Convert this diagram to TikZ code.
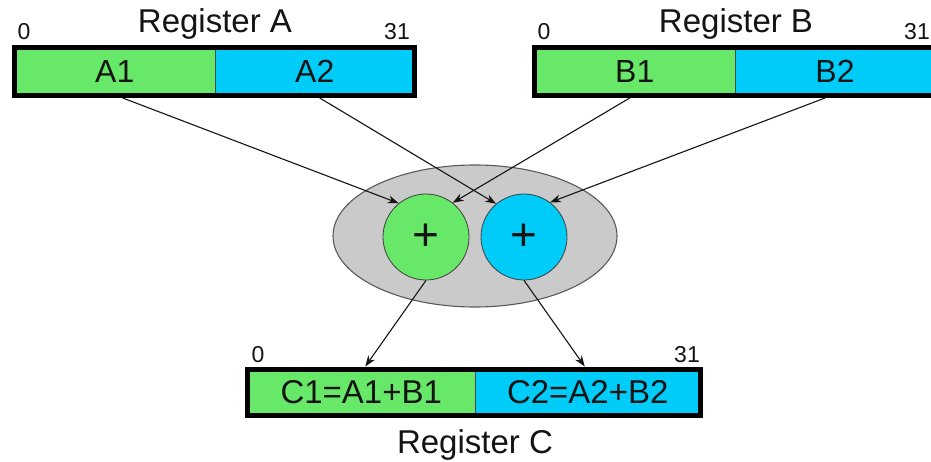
\documentclass[tikz,border=0pt]{standalone}
\usepackage{fontspec}
\setmainfont{Liberation Sans}
\usetikzlibrary{arrows.meta,shapes.geometric}
\definecolor{lanegreen}{RGB}{104,232,104}
\definecolor{laneblue}{RGB}{0,204,250}
\definecolor{alugray}{RGB}{202,202,202}
\definecolor{ink}{RGB}{20,20,20}
\tikzset{
  half/.style={rectangle, draw=none, outer sep=0pt, inner sep=0pt,
    minimum height=48pt, text=ink, font=\fontsize{32}{36}\selectfont},
  greenhalf/.style={half, fill=lanegreen},
  bluehalf/.style={half, fill=laneblue},
  regborder/.style={draw=black, line width=5pt},
  divider/.style={draw=black!70, line width=0.8pt},
  regtitle/.style={anchor=base, text=ink, font=\fontsize{33}{38}\selectfont},
  bitno/.style={anchor=base, text=ink, font=\fontsize{23}{26}\selectfont},
  adder/.style={circle, draw=black!75, line width=0.8pt, minimum size=86pt,
    inner sep=0pt, text=ink, font=\fontsize{46}{50}\selectfont},
  arr/.style={draw=ink, line width=1.1pt, -{Stealth[length=11pt,width=8pt]}},
}
\begin{document}
\begin{tikzpicture}[x=1pt,y=-1pt]
\useasboundingbox (0,0) rectangle (931,462);
\clip (0,0) rectangle (931,462);
\fill[white] (0,0) rectangle (931,462);

% Register A
\node[greenhalf, minimum width=200.5pt] (a1) at (114.75,71.5) {A1};
\node[bluehalf, minimum width=199.5pt] (a2) at (314.75,71.5) {A2};
\draw[divider] (a1.north east) -- (a1.south east);
\draw[regborder] (a1.north west) rectangle (a2.south east);
\node[regtitle] (ta) at (215,33) {Register A};
\node[bitno] (a0) at (24,40) {0};
\node[bitno] (a31) at (397,40) {31};

% Register B
\node[greenhalf, minimum width=200.5pt] (b1) at (634.75,71.5) {B1};
\node[bluehalf, minimum width=200pt] (b2) at (835,71.5) {B2};
\draw[divider] (b1.north east) -- (b1.south east);
\draw[regborder] (b1.north west) rectangle (b2.south east);
\node[regtitle] (tb) at (736,33) {Register B};
\node[bitno] (b0) at (544,40) {0};
\node[bitno] (b31) at (917,40) {31};

% Adders
\node[ellipse, draw=black!65, line width=1.1pt, fill=alugray,
  minimum width=284pt, minimum height=142pt] (alu) at (475,236) {};
\node[adder, fill=lanegreen] (g) at (426,237) {+};
\node[adder, fill=laneblue] (b) at (524,237) {+};

% Register C
\node[greenhalf, minimum width=227.5pt, minimum height=46pt,
  font=\fontsize{33}{38}\selectfont] (c1) at (361.25,392.5) {C1=A1+B1};
\node[bluehalf, minimum width=225.5pt, minimum height=46pt,
  font=\fontsize{33}{38}\selectfont] (c2) at (587.75,392.5) {C2=A2+B2};
\draw[divider] (c1.north east) -- (c1.south east);
\draw[regborder] (c1.north west) rectangle (c2.south east);
\node[regtitle] (tc) at (475,453) {Register C};
\node[bitno] (c0) at (258,362) {0};
\node[bitno] (c31) at (687,362) {31};

% Operand paths
\draw[arr] ([xshift=8pt,yshift=-2.5pt]a1.south) -- (g.129);
\draw[arr] ([xshift=-5pt,yshift=-2.5pt]b1.south) -- (g.52);
\draw[arr] ([xshift=5pt,yshift=-2.5pt]a2.south) -- (b.130);
\draw[arr] ([xshift=-10pt,yshift=-2.5pt]b2.south) -- (b.53);

% Result paths
\draw[arr] (g.south) -- ([xshift=4pt,yshift=3pt]c1.north);
\draw[arr] (b.south) -- ([xshift=-3pt,yshift=3pt]c2.north);
\end{tikzpicture}
\end{document}
